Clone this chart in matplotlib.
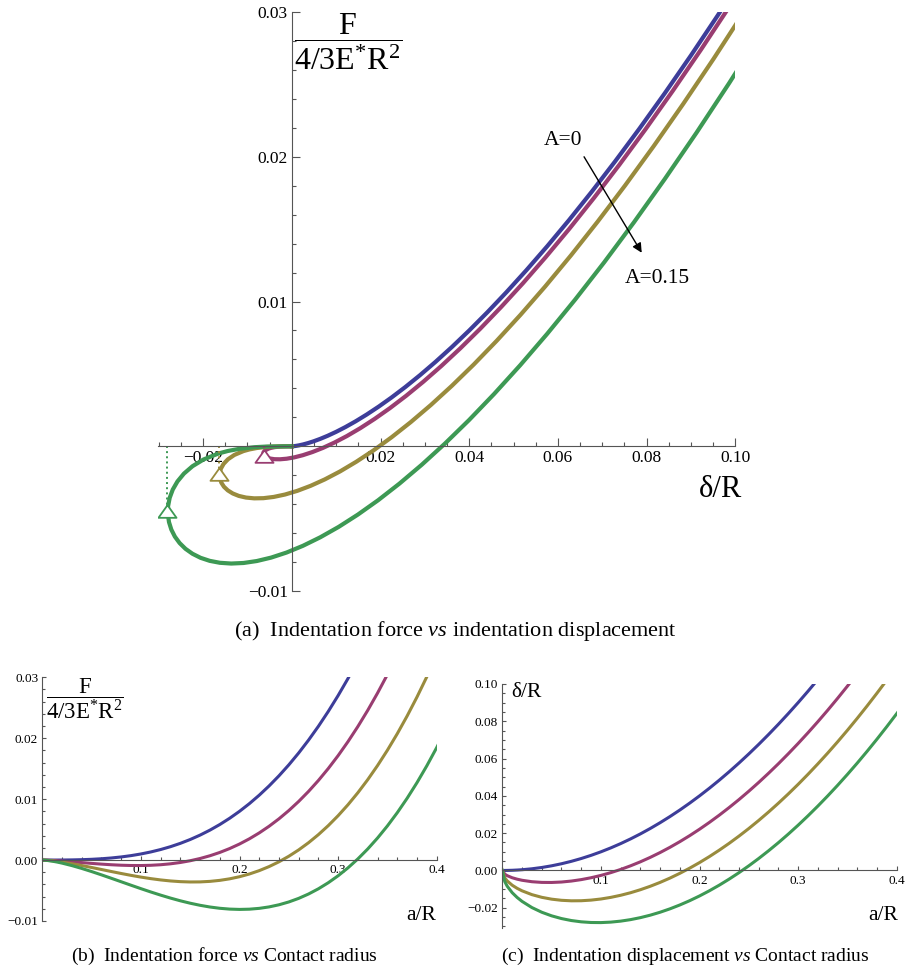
import matplotlib
matplotlib.use("Agg")
import matplotlib.pyplot as plt
from matplotlib.ticker import MultipleLocator

plt.rcParams['font.family'] = ['Liberation Serif', 'DejaVu Serif']
plt.rcParams['mathtext.fontset'] = 'custom'
plt.rcParams['mathtext.rm'] = 'Liberation Serif'
plt.rcParams['mathtext.it'] = 'Liberation Serif:italic'
plt.rcParams['axes.unicode_minus'] = True

# contact radius a/R (shared parameter of all curves)
a_R = [0, 0.0025, 0.005, 0.01, 0.015, 0.02, 0.03, 0.04, 0.05, 0.06, 0.07, 0.08,
       0.09, 0.1, 0.11, 0.12, 0.13, 0.14, 0.15, 0.16, 0.17, 0.18, 0.19, 0.2,
       0.21, 0.22, 0.23, 0.24, 0.25, 0.26, 0.27, 0.28, 0.29, 0.3, 0.31, 0.32,
       0.33, 0.34, 0.35, 0.36, 0.37, 0.38, 0.39, 0.4, 0.41, 0.42, 0.43, 0.44]

# indentation displacement delta/R, from A=0 (first) to A=0.15 (last)
delta_1 = [0, 0.00001, 0.00003, 0.0001, 0.00023, 0.0004, 0.0009, 0.0016, 0.0025,
           0.0036, 0.0049, 0.0064, 0.0081, 0.01,
           0.0121, 0.0144, 0.0169, 0.0196, 0.0225, 0.0256, 0.0289, 0.0324,
           0.0361, 0.04, 0.0441, 0.0484, 0.0529, 0.0576, 0.0625, 0.0676, 0.0729,
           0.0784, 0.0841, 0.09, 0.0961, 0.1024, 0.1089, 0.1156, 0.1225, 0.1296,
           0.1369, 0.1444, 0.1521, 0.16, 0.1681, 0.1764, 0.1849, 0.1936]
delta_2 = [0, -0.00199, -0.0028, -0.0039, -0.00467, -0.00526, -0.00603, -0.0064,
           -0.00644, -0.0062, -0.00568, -0.00491, -0.0039, -0.00265,
           -0.00117, 0.00054, 0.00248, 0.00463, 0.00701, 0.0096, 0.01241,
           0.01543, 0.01866, 0.02211, 0.02577, 0.02964, 0.03372, 0.038, 0.0425,
           0.0472, 0.05212, 0.05723, 0.06256, 0.06809, 0.07383, 0.07977, 0.08592,
           0.09228, 0.09884, 0.1056, 0.11257, 0.11974, 0.12712, 0.1347, 0.14249,
           0.15048, 0.15867, 0.16707]
delta_3 = [0, -0.00399, -0.00563, -0.0079, -0.00957, -0.01091, -0.01296, -0.0144,
           -0.01539, -0.016, -0.01627, -0.01623, -0.0159, -0.0153,
           -0.01443, -0.01331, -0.01195, -0.01033, -0.00848, -0.0064, -0.00409,
           -0.00154, 0.00123, 0.00422, 0.00744, 0.01088, 0.01453, 0.01841,
           0.0225, 0.02681, 0.03133, 0.03607, 0.04102, 0.04618, 0.05156, 0.05715,
           0.06294, 0.06895, 0.07517, 0.0816, 0.08824, 0.09509, 0.10214, 0.1094,
           0.11688, 0.12455, 0.13244, 0.14053]
delta_4 = [0, -0.00599, -0.00846, -0.0119, -0.01447, -0.01657, -0.01989, -0.0224,
           -0.02433, -0.02579, -0.02685, -0.02754, -0.0279, -0.02795,
           -0.0277, -0.02717, -0.02637, -0.0253, -0.02398, -0.0224, -0.02058,
           -0.01851, -0.01621, -0.01367, -0.01089, -0.00789, -0.00465, -0.00119,
           0.0025, 0.00641, 0.01055, 0.0149, 0.01948, 0.02427, 0.02929, 0.03452,
           0.03997, 0.04563, 0.05151, 0.0576, 0.06391, 0.07043, 0.07716, 0.0841,
           0.09126, 0.09863, 0.10621, 0.114]

# normalised force F/(4/3 E* R^2)
F_1 = [0, 0, 0, 0.000001, 0.000003, 0.000008, 0.000027, 0.000064, 0.000125,
       0.000216, 0.000343, 0.000512, 0.000729, 0.001,
       0.001331, 0.001728, 0.002197, 0.002744, 0.003375, 0.004096, 0.004913,
       0.005832, 0.006859, 0.008, 0.009261, 0.010648, 0.012167, 0.013824,
       0.015625, 0.017576, 0.019683, 0.021952, 0.024389, 0.027, 0.029791,
       0.032768, 0.035937, 0.039304, 0.042875, 0.046656, 0.050653, 0.054872,
       0.059319, 0.064, 0.068921, 0.074088, 0.079507, 0.085184]
F_2 = [0, -0.0000075, -0.000021, -0.000059, -0.000107, -0.000162, -0.000285,
       -0.000416, -0.000546, -0.000666, -0.000768, -0.000846, -0.000891,
       -0.000897,
       -0.000858, -0.000766, -0.000615, -0.000399, -0.000111, 0.000256,
       0.000707, 0.00125, 0.00189, 0.002633, 0.003487, 0.004457, 0.005549,
       0.006769, 0.008125, 0.009622, 0.011265, 0.013062, 0.015019, 0.017141,
       0.019435, 0.021907, 0.024563, 0.027409, 0.030451, 0.033696, 0.037149,
       0.040817, 0.044706, 0.048821, 0.053169, 0.057757, 0.062589, 0.067672]
F_3 = [0, -0.000015, -0.000042, -0.000119, -0.000217, -0.000331, -0.000597,
       -0.000896, -0.001217, -0.001548, -0.001879, -0.002203, -0.002511,
       -0.002795,
       -0.003047, -0.00326, -0.003428, -0.003542, -0.003596, -0.003584,
       -0.003498, -0.003332, -0.003079, -0.002733, -0.002287, -0.001735,
       -0.001069, -0.000286, 0.000625, 0.001668, 0.002847, 0.004173, 0.005649,
       0.007282, 0.009079, 0.011046, 0.013188, 0.015514, 0.018027, 0.020736,
       0.023646, 0.026762, 0.030092, 0.033642, 0.037418, 0.041425, 0.045671,
       0.050161]
F_4 = [0, -0.0000225, -0.0000635, -0.000179, -0.000327, -0.000501, -0.000908,
       -0.001376, -0.001887, -0.002429, -0.002991, -0.003561, -0.004131,
       -0.004692,
       -0.005236, -0.005754, -0.00624, -0.006685, -0.007082, -0.007424,
       -0.007704, -0.007914, -0.008048, -0.0081, -0.008061, -0.007926,
       -0.007688, -0.00734, -0.006875, -0.006287, -0.00557, -0.004717,
       -0.003722, -0.002578, -0.001277, 0.000184, 0.001814, 0.003619, 0.005604,
       0.007776, 0.010142, 0.012707, 0.015479, 0.018464, 0.021666, 0.025094,
       0.028753, 0.032649]

deltas = [delta_1, delta_2, delta_3, delta_4]
forces = [F_1, F_2, F_3, F_4]
colors = ['#3d3d99', '#993d71', '#998b3d', '#3d9954']

# pull-off points (triangles) for the three adhesive curves
jump_delta = [-0.0062, -0.0164, -0.0281]
jump_F = [-0.0007, -0.0019, -0.0045]
jump_colors = colors[1:]

# tick labels
a_xticks = [-0.02, 0.02, 0.04, 0.06, 0.08, 0.10]
a_xlabels = ['\u22120.02', '0.02', '0.04', '0.06', '0.08', '0.10']
a_yticks = [-0.01, 0.01, 0.02, 0.03]
a_ylabels = ['\u22120.01', '0.01', '0.02', '0.03']
b_xticks = [0.1, 0.2, 0.3, 0.4]
b_xlabels = ['0.1', '0.2', '0.3', '0.4']
b_yticks = [-0.01, 0.0, 0.01, 0.02, 0.03]
b_ylabels = ['\u22120.01', '0.00', '0.01', '0.02', '0.03']
c_yticks = [-0.02, 0.0, 0.02, 0.04, 0.06, 0.08, 0.10]
c_ylabels = ['\u22120.02', '0.00', '0.02', '0.04', '0.06', '0.08', '0.10']

force_label = r'$\dfrac{\mathrm{F}}{\mathrm{4/3E^{*}R^{2}}}$'
axis_col = '#555555'


def style_axes(ax, xlim, ylim, xt, xtl, yt, ytl, xmin, ymin, fs, lmaj, lmin):
    ax.set_xlim(xlim)
    ax.set_ylim(ylim)
    ax.patch.set_alpha(0)
    for s in ['top', 'right']:
        ax.spines[s].set_visible(False)
    for s in ['left', 'bottom']:
        ax.spines[s].set_position(('data', 0))
        ax.spines[s].set_color(axis_col)
        ax.spines[s].set_linewidth(0.8)
    ax.set_xticks(xt)
    ax.set_xticklabels(xtl)
    ax.set_yticks(yt)
    ax.set_yticklabels(ytl)
    ax.xaxis.set_minor_locator(MultipleLocator(xmin))
    ax.yaxis.set_minor_locator(MultipleLocator(ymin))
    ax.tick_params(which='both', direction='in', color=axis_col, width=0.8,
                   labelsize=fs, pad=3)
    ax.tick_params(which='major', length=lmaj)
    ax.tick_params(which='minor', length=lmin)


fig = plt.figure(figsize=(9.1, 9.71), dpi=100)

# (a) force vs displacement
ax = fig.add_axes([0.174, 0.3913, 0.634, 0.5963])
for d, f, c in zip(deltas, forces, colors):
    ax.plot(d, f, color=c, lw=3, solid_joinstyle='round')
for d, f, c in zip(jump_delta, jump_F, jump_colors):
    ax.plot([d, d], [0, f], color=c, lw=1.4, ls=':')
    ax.plot(d, f, marker=[(0, 0.7), (-1, -0.7), (1, -0.7), (0, 0.7)],
            ms=13, mfc='white', mec=c, mew=1.3, zorder=5)
style_axes(ax, (-0.0301, 0.1), (-0.01, 0.03), a_xticks, a_xlabels,
           a_yticks, a_ylabels, 0.005, 0.002, 12.5, 5.5, 3)
ax.text(0.0126, 0.02796, force_label, fontsize=23, ha='center', va='center')
ax.text(0.0967, -0.003, '\u03b4/R', fontsize=22, ha='center', va='center')
ax.annotate('', xy=(0.0789, 0.01337), xytext=(0.0659, 0.0200),
            arrowprops=dict(arrowstyle='-|>', color='black', lw=1,
                            mutation_scale=14, shrinkA=0, shrinkB=0))
ax.text(0.0611, 0.02115, 'A=0', fontsize=15.5, ha='center', va='center')
ax.text(0.0825, 0.0116, 'A=0.15', fontsize=15.5, ha='center', va='center')
fig.text(0.501, 0.3455, r'(a)  Indentation force $\mathit{vs}$ indentation displacement',
         fontsize=16, ha='center', va='baseline')

# (b) force vs contact radius
ax = fig.add_axes([0.0465, 0.0515, 0.4334, 0.251])
for f, c in zip(forces, colors):
    ax.plot(a_R, f, color=c, lw=2.2, solid_joinstyle='round')
style_axes(ax, (0, 0.4), (-0.01, 0.03), b_xticks, b_xlabels,
           b_yticks, b_ylabels, 0.02, 0.002, 9.5, 3, 2)
ax.text(0.0428, 0.02644, force_label, fontsize=16.5, ha='center', va='center')
ax.text(0.384, -0.0091, 'a/R', fontsize=15.5, ha='center', va='center')
fig.text(0.247, 0.0105, r'(b)  Indentation force $\mathit{vs}$ Contact radius',
         fontsize=14, ha='center', va='baseline')

# (c) displacement vs contact radius
ax = fig.add_axes([0.552, 0.044, 0.4334, 0.2516])
for d, c in zip(deltas, colors):
    ax.plot(a_R, d, color=c, lw=2.2, solid_joinstyle='round')
style_axes(ax, (0, 0.4), (-0.031, 0.1), b_xticks, b_xlabels,
           c_yticks, c_ylabels, 0.02, 0.005, 9.5, 3, 2)
ax.text(0.0245, 0.0952, '\u03b4/R', fontsize=15.5, ha='center', va='center')
ax.text(0.3858, -0.024, 'a/R', fontsize=15.5, ha='center', va='center')
fig.text(0.753, 0.0105, r'(c)  Indentation displacement $\mathit{vs}$ Contact radius',
         fontsize=14, ha='center', va='baseline')

fig.savefig('out.png', dpi=100)
